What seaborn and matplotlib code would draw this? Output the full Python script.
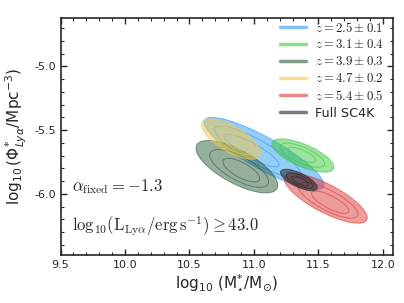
import matplotlib
matplotlib.use("Agg")
import matplotlib.pyplot as plt
from matplotlib.patches import Ellipse
from matplotlib.font_manager import FontProperties
from matplotlib.ticker import MultipleLocator, FormatStrFormatter
import seaborn as sns

# Доверительные области (M*, Phi*) по красному смещению
labels = [r'$z = 2.5 \pm 0.1$', r'$z = 3.1 \pm 0.4$', r'$z = 3.9 \pm 0.3$',
          r'$z = 4.7 \pm 0.2$', r'$z = 5.4 \pm 0.5$', 'Full SC4K']
colors = ['#2b9bf0', '#3cc83c', '#2f5f3f', '#f2c94c', '#dc3b3b', '#222222']

# центр внешнего контура
m_centre = [11.078, 11.38, 10.868, 10.822, 11.558, 11.349]
phi_centre = [-5.683, -5.699, -5.787, -5.570, -6.035, -5.891]
# центр самого внутреннего контура
m_core = [10.907, 11.364, 10.93, 10.845, 11.62, 11.365]
phi_core = [-5.642, -5.691, -5.835, -5.594, -6.09, -5.905]
# полуоси внешнего контура и наклон
semi_major = [0.53, 0.26, 0.355, 0.26, 0.36, 0.157]
semi_minor = [0.125, 0.087, 0.13, 0.10, 0.11, 0.055]
tilt = [-29.5, -23.5, -28.8, -31.0, -28.0, -26.0]
contour_levels = [1.0, 0.72, 0.45]

alpha_fixed = -1.3
lum_cut = 43.0

sns.set_style('ticks')
plt.rcParams['font.family'] = ['DejaVu Sans']
plt.rcParams['axes.unicode_minus'] = False
palette = sns.color_palette(colors)

fig = plt.figure(figsize=(4.04, 3.03), dpi=100)
fig.subplots_adjust(left=0.150, right=0.973, bottom=0.158, top=0.941)
ax = fig.add_subplot(111)

for i in range(len(labels)):
    c = palette[i]
    ax.add_patch(Ellipse((m_centre[i], phi_centre[i]), 2 * semi_major[i], 2 * semi_minor[i],
                         angle=tilt[i], facecolor=c, edgecolor='none',
                         alpha=0.55 if i == 5 else 0.5, zorder=2 + i))
    for s in contour_levels:
        cx = m_core[i] + s * (m_centre[i] - m_core[i])
        cy = phi_core[i] + s * (phi_centre[i] - phi_core[i])
        ax.add_patch(Ellipse((cx, cy), 2 * semi_major[i] * s, 2 * semi_minor[i] * s,
                             angle=tilt[i], fill=False, edgecolor=c, lw=0.7,
                             alpha=0.6, zorder=2.5 + i))
    ax.plot([], [], color=c, lw=2.5, alpha=0.6, label=labels[i])

ax.set_xlim(9.5, 12.08)
ax.set_ylim(-6.48, -4.62)
ax.xaxis.set_major_locator(MultipleLocator(0.5))
ax.xaxis.set_minor_locator(MultipleLocator(0.1))
ax.yaxis.set_major_locator(MultipleLocator(0.5))
ax.yaxis.set_minor_locator(MultipleLocator(0.1))
ax.xaxis.set_major_formatter(FormatStrFormatter('%.1f'))
ax.yaxis.set_major_formatter(FormatStrFormatter('%.1f'))
ax.tick_params(which='both', direction='in', top=True, right=True, labelsize=8)
ax.tick_params(which='major', length=4, width=1)
ax.tick_params(which='minor', length=2, width=0.8)
for sp in ax.spines.values():
    sp.set_linewidth(1.2)

ax.set_xlabel(r'$\log_{10}\,(\mathrm{M}^{*}_{\star}/\mathrm{M}_{\odot})$', fontsize=11, labelpad=2)
ax.set_ylabel(r'$\log_{10}(\Phi^{*}_{Ly\alpha}/\mathrm{Mpc}^{-3})$', fontsize=11, labelpad=4)

ax.text(0.035, 0.29, r'$\alpha_{\rm fixed} = %.1f$' % alpha_fixed, transform=ax.transAxes,
        fontsize=12, va='center', ha='left', math_fontfamily='cm')
ax.text(0.035, 0.122, r'$\mathrm{log}_{10}(\rm L_{Ly\alpha}/erg\,s^{-1}) \geq %.1f$' % lum_cut,
        transform=ax.transAxes, fontsize=12, va='center', ha='left', math_fontfamily='cm')

leg = ax.legend(loc='upper right', bbox_to_anchor=(0.985, 1.005), frameon=False,
                handlelength=2.1, handletextpad=0.7,
                labelspacing=0.3, borderaxespad=0.2, borderpad=0.1,
                prop=FontProperties(family='DejaVu Sans', size=9.2, math_fontfamily='cm'))

fig.savefig('out.png', dpi=100)
